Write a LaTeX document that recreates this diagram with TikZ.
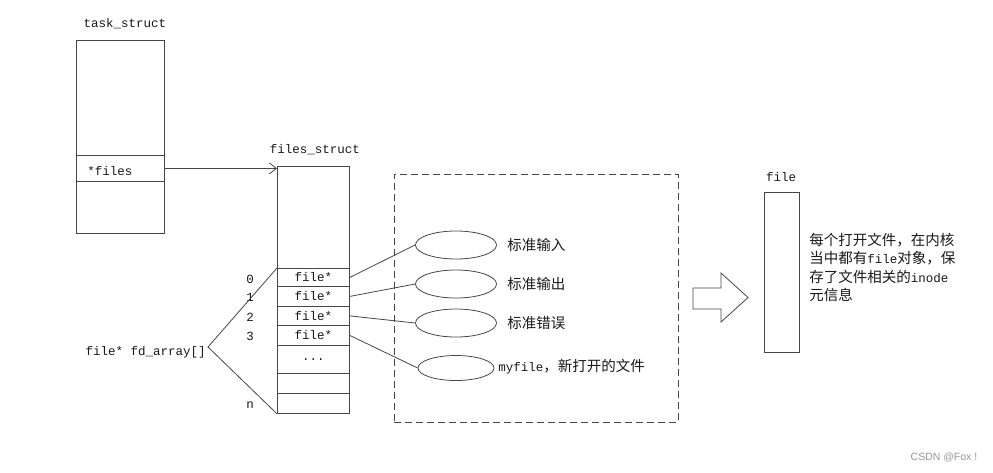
\documentclass[tikz,border=0pt]{standalone}
\usepackage{fontspec}
\newfontfamily\cjkfam{Noto Sans CJK SC}
\newfontfamily\monofam{Liberation Mono}
\newfontfamily\sansfam{Liberation Sans}
\newcommand\monotxt{\monofam\fontsize{12.5}{15}\selectfont}
\newcommand\cjktxt{\cjkfam\fontsize{14.5}{18.5}\selectfont}
\usetikzlibrary{shapes.geometric,arrows.meta}
\definecolor{ln}{RGB}{70,70,70}
\definecolor{tx}{RGB}{25,25,25}
\begin{document}
\begin{tikzpicture}[x=1pt,y=-1pt,
  line width=0.8pt,
  cell/.style={draw=ln,minimum width=72pt,minimum height=#1,inner sep=0pt,anchor=north west,text=tx,font=\monotxt},
  tcell/.style={draw=ln,minimum width=88pt,minimum height=#1,inner sep=0pt,anchor=north west},
  lbl/.style={inner sep=0pt,text=tx,font=\monotxt},
  clbl/.style={inner sep=0pt,text=tx,font=\cjktxt,anchor=west},
  oval/.style={draw=ln,ellipse,minimum width=81pt,minimum height=28pt,inner sep=0pt},
  conn/.style={draw=ln}]
\useasboundingbox (0,0) rectangle (993,472);
% task_struct
\node[lbl] (tslbl) at (125,24) {task\_struct};
\node[tcell=115pt] (t0) at (76,40) {};
\node[tcell=26pt] (t1) at (76,155) {};
\node[tcell=52pt] (t2) at (76,181) {};
\node[lbl,anchor=west] (tfiles) at (87,171) {*files};
% files_struct
\node[lbl] (fslbl) at (315,150) {files\_struct};
\node[cell=102pt] (fs0) at (277,166) {};
\node[cell=18pt] (f0) at (277,268) {file*};
\node[cell=20pt] (f1) at (277,286) {file*};
\node[cell=19pt] (f2) at (277,306) {file*};
\node[cell=20pt] (f3) at (277,325) {file*};
\node[cell=28pt] (fd) at (277,345) {...};
\node[cell=20pt] (fb) at (277,373) {};
\node[cell=20pt] (fn) at (277,393) {};
\node[lbl] (i0) at (250,279) {0};
\node[lbl] (i1) at (250,297) {1};
\node[lbl] (i2) at (250,317) {2};
\node[lbl] (i3) at (250,336) {3};
\node[lbl] (in) at (250,405) {n};
% arrow task -> files
\draw[conn,-{Straight Barb[length=7pt,width=11pt]}] (t1.east) -- (t1.east -| fs0.west);
% fd_array
\node[lbl,anchor=east] (fdarr) at (206,352) {file* fd\_array[]};
\coordinate (apex) at (208,347);
\draw[conn] (f0.north west) -- (apex) -- (fn.south west);
% dashed box
\node[draw=ln,dash pattern=on 7pt off 4pt,minimum width=284pt,minimum height=248pt,anchor=north west,inner sep=0pt] (dbox) at (394,174) {};
% ellipses
\node[oval] (e1) at (456,245) {};
\node[oval] (e2) at (456,284) {};
\node[oval] (e3) at (456,323) {};
\node[oval,minimum width=76pt,minimum height=25pt] (e4) at (456,368) {};
\node[clbl] (l1) at (507,245) {标准输入};
\node[clbl] (l2) at (507,284) {标准输出};
\node[clbl] (l3) at (507,323) {标准错误};
\node[clbl] (l4) at (498,367) {{\monotxt myfile}，新打开的文件};
\draw[conn] (f0.east) -- (e1.west);
\draw[conn] (f1.east) -- (e2.west);
\draw[conn] (f2.east) -- (e3.west);
\draw[conn] (f3.east) -- (e4.west);
% block arrow
\draw[ln] (693,288) -- (721,288) -- (721,273) -- (748,297.5) -- (721,322) -- (721,309) -- (693,309) -- cycle;
% file
\node[lbl] (flbl) at (781,177) {file};
\node[draw=ln,minimum width=35pt,minimum height=160pt,inner sep=0pt,anchor=north west] (fbox) at (764,192) {};
\node[inner sep=0pt,anchor=west,align=left,text=tx,font=\cjktxt] (desc) at (809,267.5)
  {每个打开文件，在内核\\当中都有{\monotxt file}对象，保\\存了文件相关的{\monotxt inode}\\元信息};
% watermark
\node[inner sep=0pt,text={rgb,255:red,150;green,150;blue,150},font=\sansfam\fontsize{10.5}{12}\selectfont] (wm) at (944,457) {CSDN @Fox !};
\end{tikzpicture}
\end{document}
